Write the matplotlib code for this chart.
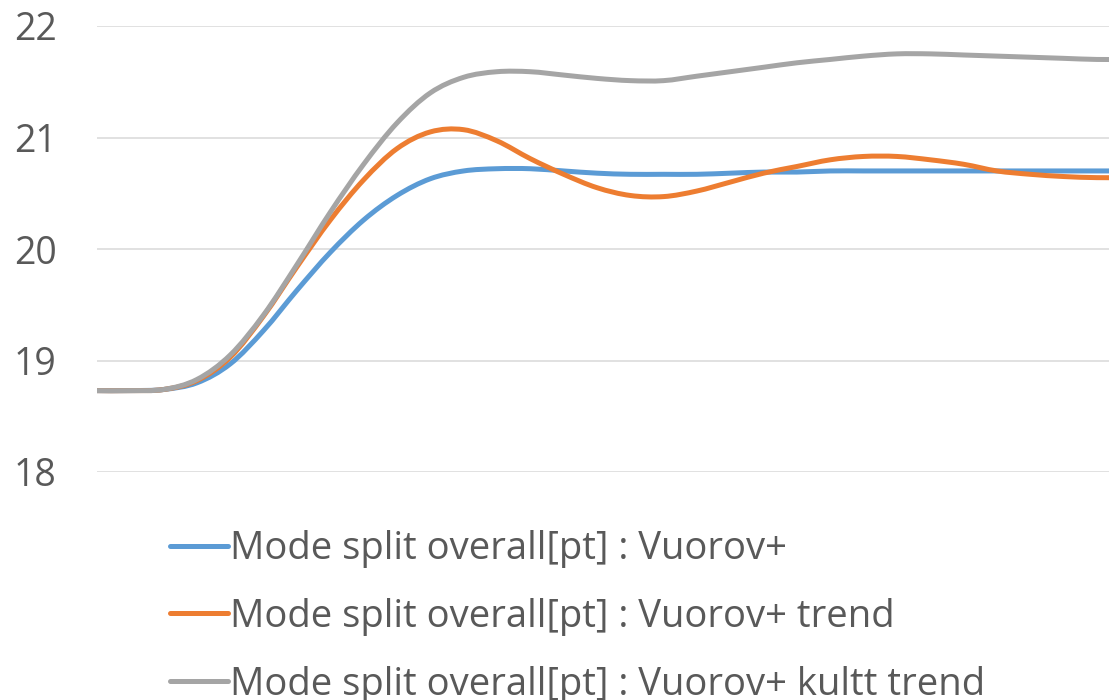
import numpy as np
import matplotlib.pyplot as plt
from matplotlib.path import Path
from matplotlib.patches import PathPatch
from matplotlib.lines import Line2D

plt.rcParams['font.family'] = ['Open Sans', 'DejaVu Sans']

# time steps (no x labels shown in the source chart)
steps = list(range(32))

vuorov = [18.73, 18.73, 18.74, 18.80, 18.97, 19.27, 19.63, 19.97, 20.26, 20.48,
          20.63, 20.70, 20.72, 20.72, 20.70, 20.68, 20.67, 20.67, 20.67, 20.68,
          20.69, 20.69, 20.70, 20.70, 20.70, 20.70, 20.70, 20.70, 20.70, 20.70,
          20.70, 20.70]
vuorov_trend = [18.73, 18.73, 18.74, 18.82, 19.03, 19.40, 19.84, 20.26, 20.62, 20.90,
                21.05, 21.07, 20.97, 20.81, 20.67, 20.55, 20.48, 20.47, 20.52, 20.60,
                20.68, 20.74, 20.80, 20.83, 20.83, 20.80, 20.76, 20.70, 20.67, 20.65,
                20.64, 20.64]
vuorov_kultt = [18.73, 18.73, 18.74, 18.83, 19.05, 19.41, 19.86, 20.33, 20.76, 21.13,
                21.40, 21.54, 21.59, 21.59, 21.56, 21.53, 21.51, 21.51, 21.55, 21.59,
                21.63, 21.67, 21.70, 21.73, 21.75, 21.75, 21.74, 21.73, 21.72, 21.71,
                21.70, 21.70]

labels = ['Mode split overall[pt] : Vuorov+',
          'Mode split overall[pt] : Vuorov+ trend',
          'Mode split overall[pt] : Vuorov+ kultt trend']
colors = ['#5B9BD5', '#ED7D31', '#A5A5A5']
yticks = [18, 19, 20, 21, 22]


def smooth_path(xs, ys):
    # Excel-style smoothed line: cubic bezier through the data points
    x = np.asarray(xs, float)
    y = np.asarray(ys, float)
    verts = [(x[0], y[0])]
    codes = [Path.MOVETO]
    n = len(x)
    for i in range(n - 1):
        i0, i3 = max(i - 1, 0), min(i + 2, n - 1)
        c1 = (x[i] + (x[i + 1] - x[i0]) / 6, y[i] + (y[i + 1] - y[i0]) / 6)
        c2 = (x[i + 1] - (x[i3] - x[i]) / 6, y[i + 1] - (y[i3] - y[i]) / 6)
        verts += [c1, c2, (x[i + 1], y[i + 1])]
        codes += [Path.CURVE4] * 3
    return Path(verts, codes)


W, H = 1109, 700
fig = plt.figure(figsize=(W / 100, H / 100), dpi=100)
ax = fig.add_axes([97 / W, 1 - 472 / H, 1 - 97 / W, 446 / H])

handles = []
for ys, lab, c in zip([vuorov, vuorov_trend, vuorov_kultt], labels, colors):
    ax.add_patch(PathPatch(smooth_path(steps, ys), facecolor='none', edgecolor=c,
                           linewidth=3.6, capstyle='round', joinstyle='round'))
    handles.append(Line2D([], [], color=c, linewidth=3.6, solid_capstyle='round'))

ax.set_ylim(18, 22)
ax.set_xlim(0, (W - 97) / 33.33)
ax.set_yticks(yticks)
ax.set_xticks([])
ax.grid(axis='y', color='#D9D9D9', linewidth=1.1)
ax.set_axisbelow(True)
for s in ax.spines.values():
    s.set_visible(False)
ax.tick_params(axis='y', length=0, pad=29, labelsize=27, labelcolor='#595959')

leg = fig.legend(handles, labels, loc='upper left',
                 bbox_to_anchor=(170 / W, 1 - 530 / H),
                 frameon=False, fontsize=27.5, handlelength=1.52,
                 handletextpad=0.05, borderpad=0, borderaxespad=0,
                 labelspacing=0.78)
for t in leg.get_texts():
    t.set_color('#595959')

fig.savefig('out.png', dpi=100)
